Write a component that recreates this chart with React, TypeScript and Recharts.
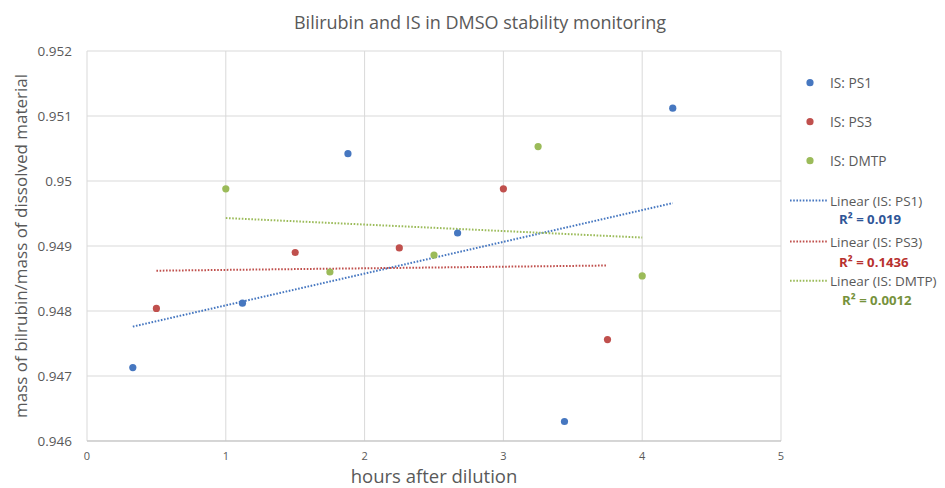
import { ScatterChart, Scatter, XAxis, YAxis, CartesianGrid } from 'recharts';

// measured points (hours after dilution, mass ratio)
const ps1Hours = [0.33, 1.12, 1.88, 2.67, 3.44, 4.22];
const ps1Ratio = [0.94713, 0.94812, 0.95042, 0.9492, 0.9463, 0.95112];
const ps3Hours = [0.5, 1.5, 2.25, 3.0, 3.75];
const ps3Ratio = [0.94804, 0.9489, 0.94897, 0.94988, 0.94756];
const dmtpHours = [1.0, 1.75, 2.5, 3.25, 4.0];
const dmtpRatio = [0.94988, 0.9486, 0.94886, 0.95053, 0.94854];

// linear trendline end points
const ps1TrendHours = [0.33, 4.22];
const ps1TrendRatio = [0.94776, 0.94966];
const ps3TrendHours = [0.5, 3.75];
const ps3TrendRatio = [0.94862, 0.9487];
const dmtpTrendHours = [1.0, 4.0];
const dmtpTrendRatio = [0.94943, 0.94913];

const seriesNames = ['IS: PS1', 'IS: PS3', 'IS: DMTP'];
const rSquaredLabels = ['R² = 0.019', 'R² = 0.1436', 'R² = 0.0012'];

const xTicks = [0, 1, 2, 3, 4, 5];
const yTicks = [0.946, 0.947, 0.948, 0.949, 0.95, 0.951, 0.952];

const BLUE = '#4677C0';
const RED = '#C0504D';
const GREEN = '#9BBB59';
const GREY = '#595959';
const FONT = "'Open Sans', sans-serif";

const toPoints = (xs: number[], ys: number[]) => xs.map((x, i) => ({ x, y: ys[i] }));

const dot = (color: string) => (props: any) => <circle cx={props.cx} cy={props.cy} r={3.6} fill={color} />;
const noDot = () => <g />;

const trendLine = (color: string) => ({ stroke: color, strokeWidth: 2, strokeDasharray: '1.6 1.6' });

const Legend = () => {
  const colors = [BLUE, RED, GREEN];
  const rColors = ['#2F5597', '#B8312F', '#76923C'];
  const markerY = [82.7, 121.7, 160.7];
  const lineY = [200.5, 241.5, 280.7];
  const rY = [219, 261.7, 299.5];
  const rX = [839, 839, 842];
  return (
    <svg width={945} height={488} style={{ position: 'absolute', left: 0, top: 0, pointerEvents: 'none' }}>
      <text x={480} y={21.7} textAnchor="middle" dominantBaseline="central" fontFamily={FONT} fontSize={18} fill={GREY}>
        Bilirubin and IS in DMSO stability monitoring
      </text>
      {seriesNames.map((name, i) => (
        <g key={name}>
          <circle cx={810} cy={markerY[i]} r={3.6} fill={colors[i]} />
          <text x={830} y={markerY[i]} dominantBaseline="central" fontFamily={FONT} fontSize={13.7} fill={GREY}>
            {name}
          </text>
          <line x1={790} x2={827} y1={lineY[i]} y2={lineY[i]} stroke={colors[i]} strokeWidth={2} strokeDasharray="1.6 1.6" />
          <text x={830} y={lineY[i]} dominantBaseline="central" fontFamily={FONT} fontSize={13.5} fill={GREY}>
            {`Linear (${name})`}
          </text>
          <text x={rX[i]} y={rY[i]} dominantBaseline="central" fontFamily={FONT} fontSize={13.2} fontWeight="bold" fill={rColors[i]}>
            {rSquaredLabels[i]}
          </text>
        </g>
      ))}
    </svg>
  );
};

export default function App() {
  return (
    <div style={{ position: 'absolute', left: 0, top: 0, width: 945, height: 488, background: '#fff', fontFamily: FONT }}>
      <ScatterChart width={945} height={488} margin={{ top: 51, right: 164, bottom: 0, left: 0 }}>
        <CartesianGrid stroke="#D9D9D9" />
        <XAxis
          type="number"
          dataKey="x"
          domain={[0, 5]}
          ticks={xTicks}
          height={47}
          tickLine={false}
          tickSize={0}
          tickMargin={11}
          axisLine={{ stroke: '#BFBFBF' }}
          tick={{ fill: GREY, fontSize: 11 }}
          label={{ value: 'hours after dilution', position: 'insideBottom', offset: 5, fill: GREY, fontSize: 18.5 }}
        />
        <YAxis
          type="number"
          dataKey="y"
          domain={[0.946, 0.952]}
          ticks={yTicks}
          width={87}
          allowDataOverflow
          tickLine={false}
          axisLine={false}
          tickSize={0}
          tickMargin={15}
          tick={{ fill: GREY, fontSize: 13.5 }}
          tickFormatter={(v: number) => String(+v.toFixed(3))}
          label={{
            value: 'mass of bilrubin/mass of dissolved material',
            angle: -90,
            position: 'insideLeft',
            offset: 21,
            fill: GREY,
            fontSize: 17,
            style: { textAnchor: 'middle' },
          }}
        />
        <Scatter name={`Linear (${seriesNames[0]})`} data={toPoints(ps1TrendHours, ps1TrendRatio)} line={trendLine(BLUE)} shape={noDot} isAnimationActive={false} />
        <Scatter name={`Linear (${seriesNames[1]})`} data={toPoints(ps3TrendHours, ps3TrendRatio)} line={trendLine(RED)} shape={noDot} isAnimationActive={false} />
        <Scatter name={`Linear (${seriesNames[2]})`} data={toPoints(dmtpTrendHours, dmtpTrendRatio)} line={trendLine(GREEN)} shape={noDot} isAnimationActive={false} />
        <Scatter name={seriesNames[0]} data={toPoints(ps1Hours, ps1Ratio)} shape={dot(BLUE)} isAnimationActive={false} />
        <Scatter name={seriesNames[1]} data={toPoints(ps3Hours, ps3Ratio)} shape={dot(RED)} isAnimationActive={false} />
        <Scatter name={seriesNames[2]} data={toPoints(dmtpHours, dmtpRatio)} shape={dot(GREEN)} isAnimationActive={false} />
      </ScatterChart>
      <Legend />
    </div>
  );
}
